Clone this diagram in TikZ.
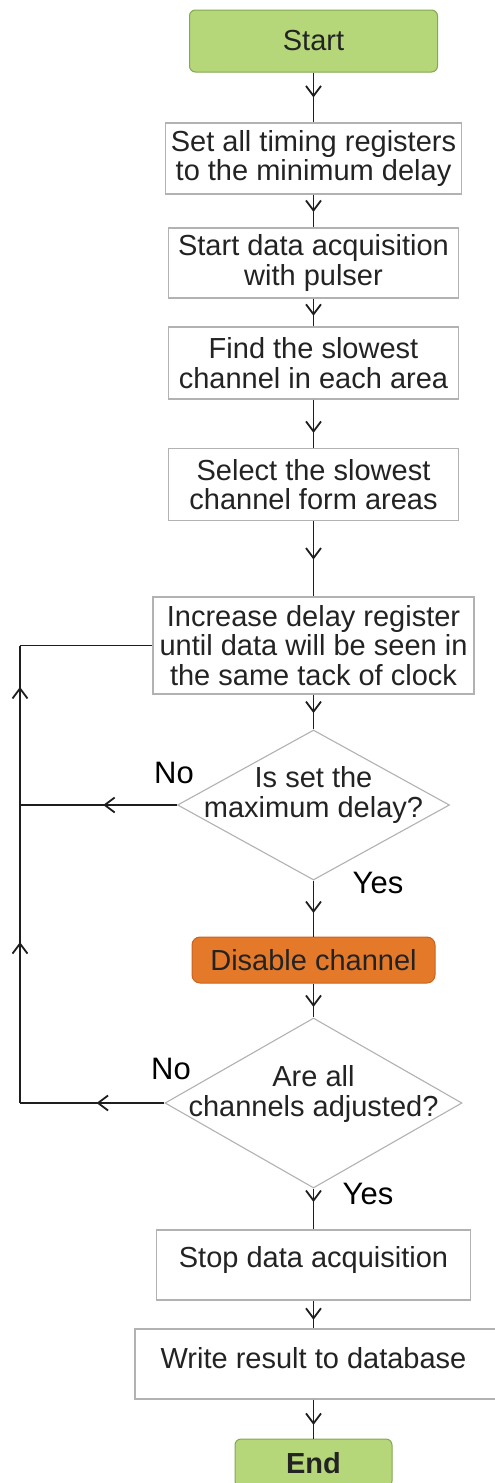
\documentclass[tikz,border=0pt]{standalone}
\usepackage{fontspec}
\setmainfont{Liberation Sans}
\usetikzlibrary{shapes.geometric,decorations.markings,arrows.meta}
\definecolor{gfill}{RGB}{181,215,122}
\definecolor{gdraw}{RGB}{130,168,80}
\definecolor{ofill}{RGB}{229,121,42}
\definecolor{odraw}{RGB}{200,100,30}
\definecolor{bdraw}{RGB}{178,178,178}
\definecolor{lcol}{RGB}{30,30,30}
\definecolor{tcol}{RGB}{35,35,35}
\begin{document}
\begin{tikzpicture}[x=1pt,y=-1pt,
  box/.style={draw=bdraw, line width=1.3pt, fill=white, inner sep=0pt},
  term/.style={draw=gdraw, fill=gfill, rounded corners=6pt, line width=1pt, inner sep=0pt,
               font=\fontsize{29}{29.5}\selectfont, text=tcol},
  act/.style={draw=odraw, fill=ofill, rounded corners=8pt, line width=1pt, inner sep=0pt,
              font=\fontsize{29}{29.5}\selectfont, text=tcol},
  dec/.style={draw=bdraw, line width=1.1pt, diamond, inner sep=0pt, fill=white},
  txt/.style={font=\fontsize{29}{29.5}\selectfont, text=tcol, align=center, inner sep=0pt},
  lbl/.style={font=\fontsize{31}{31}\selectfont, text=black, inner sep=0pt},
  conn/.style={draw=lcol, line width=1.8pt},
  midarrow/.style={postaction={decorate}, decoration={markings,
     mark=at position #1 with {\arrow{Straight Barb[length=10pt,width=15pt,line width=1.8pt]}}}},
  midarrow/.default=0.5]
\fill[white] (0,0) rectangle (495,1483);
\useasboundingbox (0,0) rectangle (495,1483);

% nodes
\node[term, minimum width=248pt, minimum height=62pt] (start) at (313.5,41) {Start};
\node[box, minimum width=296pt, minimum height=71pt] (b1) at (313.5,158.5) {};
\node[txt] (b1t) at (313.5,158.5) {Set all timing registers\\to the minimum delay};
\node[box, minimum width=290pt, minimum height=70pt] (b2) at (313.5,263) {};
\node[txt] (b2t) at (313.5,263) {Start data acquisition\\with pulser};
\node[box, minimum width=290pt, minimum height=72pt] (b3) at (313.5,363) {};
\node[txt] (b3t) at (313.5,363) {Find the slowest\\channel in each area};
\node[box, minimum width=290pt, minimum height=72pt] (b4) at (313.5,484.5) {};
\node[txt] (b4t) at (313.5,484.5) {Select the slowest\\channel form areas};
\node[box, minimum width=321pt, minimum height=97pt] (b5) at (313.5,645.5) {};
\node[txt] (b5t) at (313.5,645.5) {Increase delay register\\until data will be seen in\\the same tack of clock};
\node[dec, minimum width=272pt, minimum height=150pt] (d1) at (313.5,805) {};
\node[txt] (d1t) at (313.5,795) {Is set the\\maximum delay?};
\node[act, minimum width=243pt, minimum height=46pt] (dis) at (313.5,960) {Disable channel};
\node[dec, minimum width=297pt, minimum height=170pt] (d2) at (313.5,1103) {};
\node[txt] (d2t) at (313.5,1094) {Are all\\channels adjusted?};
\node[box, minimum width=314pt, minimum height=70pt] (stop) at (313.5,1265) {};
\node[txt] (stopt) at (313.5,1260) {Stop data acquisition};
\node[box, minimum width=362pt, minimum height=70pt] (write) at (316,1364) {};
\node[txt] (writet) at (313.5,1358) {Write result to database};
\node[term, minimum width=157pt, minimum height=48pt, font=\fontsize{29}{29.5}\selectfont\bfseries] (end) at (313.5,1463) {End};

% labels
\node[lbl] (no1) at (174,773) {No};
\node[lbl] (yes1) at (378,883) {Yes};
\node[lbl] (no2) at (171,1069) {No};
\node[lbl] (yes2) at (368,1194) {Yes};

% main connectors
\draw[conn, midarrow=0.5] (start) -- (b1);
\draw[conn, midarrow=0.53] (b1) -- (b2);
\draw[conn, midarrow=0.62] (b2) -- (b3);
\draw[conn, midarrow=0.69] (b3) -- (b4);
\draw[conn, midarrow=0.51] (b4) -- (b5);
\draw[conn, midarrow=0.53] (b5) -- (d1);
\draw[conn, midarrow=0.58] (d1) -- (dis);
\draw[conn, midarrow=0.69] (dis) -- (d2);
\draw[conn, midarrow=0.33] (d2) -- (stop);
\draw[conn, midarrow=0.69] (stop.south) -- (stop.south |- write.north);
\draw[conn, midarrow=0.65] (end.north |- write.south) -- (end.north);

% loop back
\coordinate (c1) at (20,805);
\coordinate (c2) at (20,1103);
\coordinate (c3) at (b5.west -| c1);
\draw[conn, midarrow=0.47] (d1.west) -- (c1);
\draw[conn, midarrow=0.74] (c1) -- (c3);
\draw[conn] (c3) -- (b5.west);
\draw[conn, midarrow=0.47] (d2.west) -- (c2);
\draw[conn, midarrow=0.54] (c2) -- (c1);
\end{tikzpicture}
\end{document}
